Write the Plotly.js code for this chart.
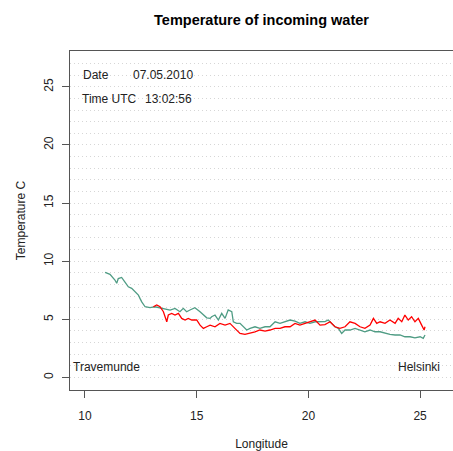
<!DOCTYPE html>
<html>
<head>
<meta charset="utf-8">
<script src="https://cdn.plot.ly/plotly-3.0.1.min.js"></script>
<style>html,body{margin:0;padding:0;background:#fff;overflow:hidden;}#chart{width:453px;height:451px;}</style>
</head>
<body>
<div id="chart"></div>
<script>
// Green (teal) series: longitude, temperature
var greenLon = [10.90,11.12,11.34,11.42,11.49,11.64,11.79,11.94,12.09,12.24,12.39,12.46,12.54,12.69,12.91,13.13,13.36,13.58,13.81,14.03,14.25,14.40,14.55,14.70,14.92,15.15,15.30,15.45,15.60,15.67,15.82,15.97,16.12,16.27,16.41,16.57,16.64,16.79,16.94,17.09,17.24,17.39,17.61,17.83,18.06,18.28,18.51,18.73,18.95,19.18,19.40,19.62,19.85,20.07,20.30,20.52,20.74,20.89,21.04,21.19,21.34,21.49,21.64,21.86,22.09,22.31,22.53,22.76,22.98,23.21,23.43,23.65,23.88,24.10,24.32,24.55,24.77,25.00,25.14,25.22];
var greenTemp = [9.04,8.87,8.38,8.10,8.50,8.60,8.20,7.80,7.66,7.37,7.09,6.80,6.50,6.08,6.00,6.08,6.00,5.94,5.80,5.94,5.65,5.94,5.65,5.80,6.00,5.65,5.37,5.13,5.08,5.22,5.37,4.94,5.51,5.08,5.80,5.65,4.79,4.65,4.65,4.36,4.08,4.22,4.36,4.22,4.36,4.36,4.79,4.65,4.79,4.94,4.85,4.65,4.79,4.65,4.79,4.80,4.80,4.94,4.65,4.36,4.22,3.79,4.08,4.08,4.22,4.08,3.93,4.08,3.93,3.93,3.79,3.70,3.65,3.65,3.50,3.50,3.41,3.50,3.36,3.65];
// Red series: longitude, temperature
var redLon = [13.06,13.21,13.36,13.51,13.66,13.73,13.88,14.03,14.18,14.33,14.48,14.62,14.78,15.00,15.15,15.30,15.45,15.60,15.82,16.04,16.27,16.49,16.71,16.94,17.16,17.39,17.61,17.83,18.06,18.28,18.51,18.73,18.95,19.18,19.40,19.62,19.85,20.07,20.30,20.52,20.74,20.97,21.19,21.41,21.64,21.86,22.09,22.31,22.53,22.76,22.91,23.06,23.21,23.43,23.65,23.88,24.02,24.18,24.32,24.47,24.62,24.77,24.92,25.07,25.18,25.22];
var redTemp = [6.08,6.23,6.08,5.65,4.79,5.37,5.51,5.37,5.51,5.08,4.94,5.08,4.94,4.94,4.50,4.22,4.36,4.50,4.36,4.65,4.50,4.65,4.22,3.79,3.70,3.79,3.93,4.08,3.99,4.08,4.22,4.22,4.36,4.36,4.65,4.50,4.65,4.79,4.94,4.50,4.55,4.79,4.36,4.22,4.36,4.79,4.65,4.36,4.22,4.50,5.08,4.65,4.79,4.65,4.94,4.65,5.08,4.79,5.37,4.94,5.22,4.79,5.08,4.50,4.08,4.36];

var xTicks = [10, 15, 20, 25];
var yTicks = [0, 5, 10, 15, 20, 25];
var gridLevels = [];
for (var g = 0; g <= 27; g++) gridLevels.push(g);

var titleText = 'Temperature of incoming water';
var xTitle = 'Longitude';
var yTitle = 'Temperature C';
var dateLabel = 'Date', dateValue = '07.05.2010';
var timeLabel = 'Time UTC', timeValue = '13:02:56';
var startPort = 'Travemunde', endPort = 'Helsinki';

var FONT = 'Liberation Sans, Arial, Helvetica, sans-serif';
var AX = '#555555';

var traces = [
  {x: greenLon, y: greenTemp, type: 'scatter', mode: 'lines',
   line: {color: '#4f9c84', width: 1.3}, hoverinfo: 'skip'},
  {x: redLon, y: redTemp, type: 'scatter', mode: 'lines',
   line: {color: '#ff0000', width: 1.3}, hoverinfo: 'skip'}
];

var annFont = {family: FONT, size: 12, color: '#222'};
var layout = {
  width: 453, height: 451,
  margin: {l: 70, r: 0, t: 51, b: 61, pad: 0},
  paper_bgcolor: '#fff', plot_bgcolor: '#fff',
  showlegend: false,
  font: {family: FONT, size: 12, color: '#222'},
  title: {text: '<b>' + titleText + '</b>', x: 0.5, xref: 'paper', xanchor: 'center',
          y: 1 - 20/451, yref: 'container', yanchor: 'middle',
          font: {family: FONT, size: 14.5, color: '#000'}},
  xaxis: {
    range: [9.329, 26.473], tickvals: xTicks, ticktext: xTicks.map(String),
    showline: true, linecolor: AX, linewidth: 1, mirror: true,
    ticks: 'outside', ticklen: 7, tickcolor: AX, tickwidth: 1,
    showgrid: false, zeroline: false, ticklabelstandoff: 8,
    tickfont: {family: FONT, size: 12, color: '#222'},
    title: {text: xTitle, standoff: 28, font: {family: FONT, size: 12, color: '#222'}}
  },
  yaxis: {
    range: [-1.08, 28.08], tickvals: yTicks, ticktext: yTicks.map(String),
    showline: true, linecolor: AX, linewidth: 1, mirror: false,
    ticks: 'outside', ticklen: 7, tickcolor: AX, tickwidth: 1,
    tickangle: -90, showgrid: false, zeroline: false, ticklabelstandoff: 4,
    tickfont: {family: FONT, size: 12, color: '#222'},
    minor: {tickvals: gridLevels, showgrid: true, gridcolor: '#d6d6d6', griddash: '1px,3px', gridwidth: 1, ticks: ''},
    title: {text: yTitle, standoff: 14, font: {family: FONT, size: 12, color: '#222'}}
  },
  annotations: [
    {x: 9.82, y: 26.0, xref: 'x', yref: 'y', text: dateLabel, showarrow: false, xanchor: 'left', yanchor: 'middle', font: annFont},
    {x: 12.05, y: 26.0, xref: 'x', yref: 'y', text: dateValue, showarrow: false, xanchor: 'left', yanchor: 'middle', font: annFont},
    {x: 9.78, y: 23.95, xref: 'x', yref: 'y', text: timeLabel, showarrow: false, xanchor: 'left', yanchor: 'middle', font: annFont},
    {x: 12.6, y: 23.95, xref: 'x', yref: 'y', text: timeValue, showarrow: false, xanchor: 'left', yanchor: 'middle', font: annFont},
    {x: 9.38, y: 0.92, xref: 'x', yref: 'y', text: startPort, showarrow: false, xanchor: 'left', yanchor: 'middle', font: annFont},
    {x: 25.98, y: 0.92, xref: 'x', yref: 'y', text: endPort, showarrow: false, xanchor: 'right', yanchor: 'middle', font: annFont}
  ]
};

Plotly.newPlot('chart', traces, layout, {staticPlot: true, displayModeBar: false});
</script>
</body>
</html>
